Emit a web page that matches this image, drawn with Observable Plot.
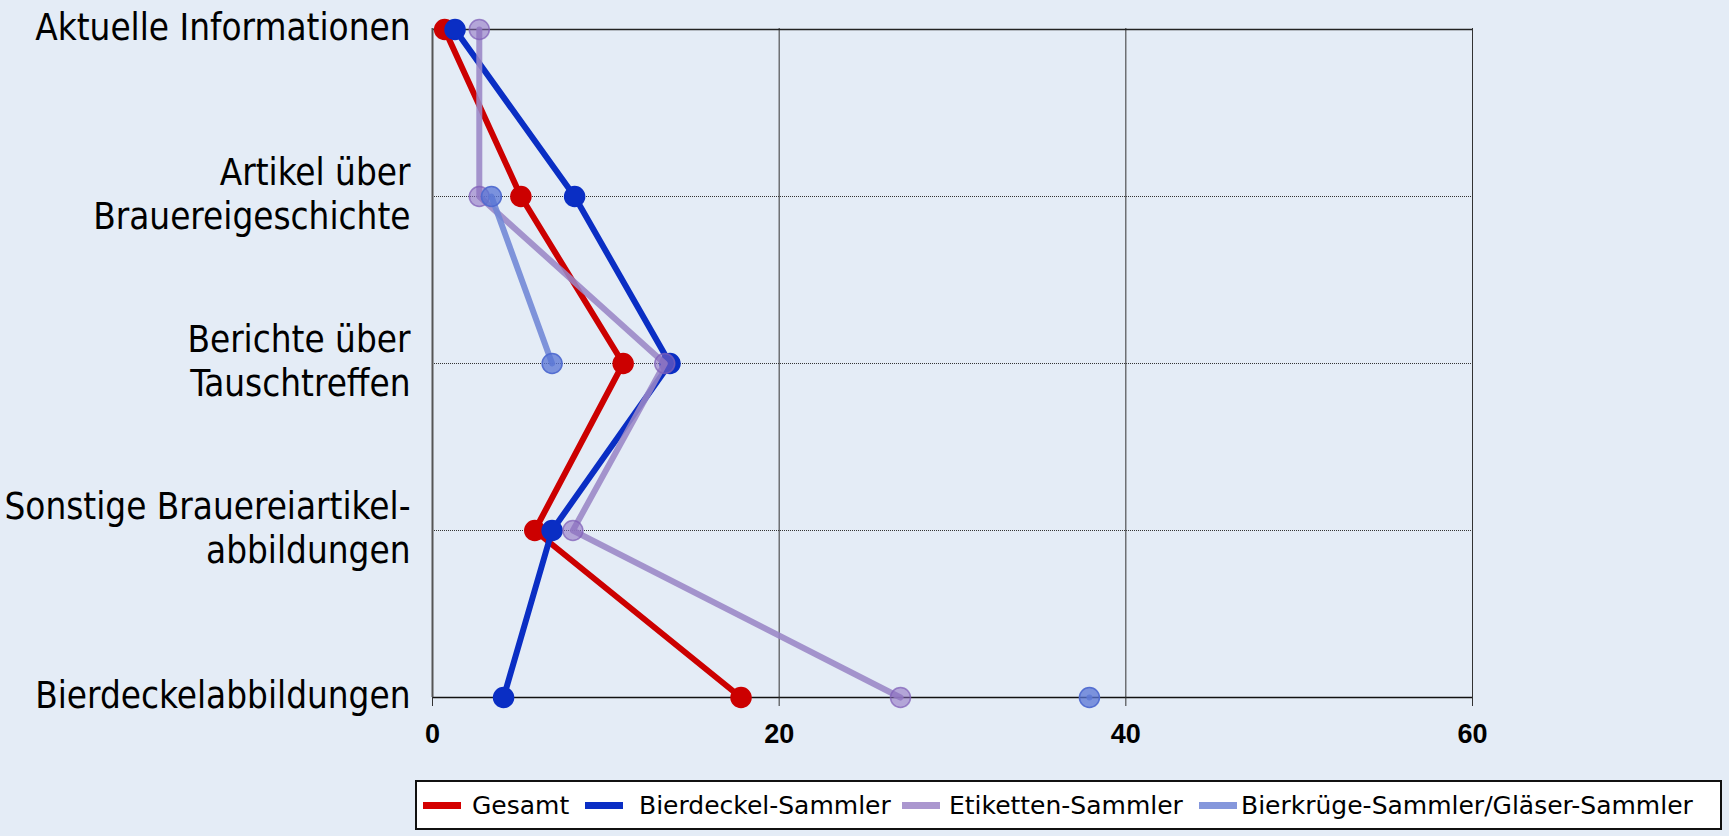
<!DOCTYPE html>
<html><head><meta charset="utf-8">
<script src="https://cdn.jsdelivr.net/npm/d3@7"></script>
<script src="https://cdn.jsdelivr.net/npm/@observablehq/plot@0.6"></script>
<style>
html,body{margin:0;padding:0;background:#e4ecf6;width:1729px;height:836px;overflow:hidden;position:relative;}
#chart{position:absolute;left:0;top:0;}
#legend{position:absolute;left:415px;top:780px;width:1303px;height:46px;background:#fff;border:2px solid #111;font-family:"DejaVu Sans",sans-serif;font-size:25px;color:#000;}
.sw{position:absolute;top:20px;width:38px;height:7px;}
.lt{position:absolute;top:0;line-height:48px;white-space:nowrap;}
</style>
</head><body>
<div id="chart"></div>
<div id="legend"></div>
<script>
const categories = ["Aktuelle Informationen","Artikel über Brauereigeschichte","Berichte über Tauschtreffen","Sonstige Brauereiartikelabbildungen","Bierdeckelabbildungen"];
const categoryLabels = ["Aktuelle Informationen","Artikel über\nBrauereigeschichte","Berichte über\nTauschtreffen","Sonstige Brauereiartikel-\nabbildungen","Bierdeckelabbildungen"];
const seriesNames = ["Gesamt","Bierdeckel-Sammler","Etiketten-Sammler","Bierkrüge-Sammler/Gläser-Sammler"];
const gesamt     = [0.7, 5.1, 11.0, 5.9, 17.8];
const bierdeckel = [1.3, 8.2, 13.7, 6.9, 4.1];
const etiketten  = [2.7, 2.7, 13.4, 8.1, 27.0];
const bierkruege = [null, 3.4, 6.9, null, 37.9];
const xTicks = [0, 20, 40, 60];

const seriesValues = [gesamt, bierdeckel, etiketten, bierkruege];
const styles = [
  {line:"#cc0000", lineOp:1, dot:"#cc0000", dotOp:1, stroke:"#cc0000", sw:"#d40000"},
  {line:"#0a2ec4", lineOp:1, dot:"#0a2ec4", dotOp:1, stroke:"#0a2ec4", sw:"#0a2ec4"},
  {line:"#9a86c6", lineOp:0.88, dot:"#8a6cc0", dotOp:0.55, stroke:"#8060b8", sw:"#ab97cf"},
  {line:"#6f86d6", lineOp:0.88, dot:"#5874d4", dotOp:0.75, stroke:"#4f6ad0", sw:"#8597dc"}
];

const rows = [];
seriesNames.forEach((s, i) => categories.forEach((c, j) => rows.push({series: s, category: c, value: seriesValues[i][j]})));

const marks = [
  Plot.ruleY(categories.slice(1, 4), {stroke: "#333", strokeWidth: 1, strokeDasharray: "1,1"}),
  Plot.ruleX(xTicks.slice(1), {stroke: "#333", strokeWidth: 1}),
  Plot.ruleY([categories[0]], {stroke: "#222", strokeWidth: 1.5}),
  Plot.ruleY([categories[4]], {stroke: "#111", strokeWidth: 1.5}),
  Plot.ruleX([0], {stroke: "#555", strokeWidth: 2}),
  Plot.axisX({ticks: xTicks, tickFormat: d => String(d), label: null, tickSize: 9, tickPadding: 17, stroke: "#333", fontSize: 27, fontWeight: "bold", fontFamily: "Liberation Sans, Arial, sans-serif", fill: "#000"}),
  Plot.text(categories, {x: 0, y: d => d, text: (d, i) => categoryLabels[i], textAnchor: "end", dx: -22, dy: -4, fontSize: 36.5, lineHeight: 1.22, fontFamily: "DejaVu Sans Condensed, DejaVu Sans, sans-serif", fill: "#000"})
];
seriesNames.forEach((s, i) => {
  const st = styles[i];
  const data = rows.filter(r => r.series === s);
  marks.push(Plot.line(data, {x: "value", y: "category", stroke: st.line, strokeOpacity: st.lineOp, strokeWidth: 6, curve: "linear"}));
  marks.push(Plot.dot(data.filter(r => r.value != null), {x: "value", y: "category", r: 10, fill: st.dot, fillOpacity: st.dotOp, stroke: st.stroke, strokeOpacity: Math.min(1, st.dotOp + 0.2), strokeWidth: 1.5}));
});

const chart = Plot.plot({
  width: 1729, height: 770,
  marginLeft: 432, marginRight: 257, marginTop: 28, marginBottom: 73,
  style: {background: "transparent", overflow: "visible"},
  x: {domain: [0, 60], axis: null, label: null},
  y: {type: "point", domain: categories, padding: 0, axis: null},
  marks
});
document.getElementById("chart").appendChild(chart);

const legend = document.getElementById("legend");
const swX = [6, 168, 485, 782];
const txX = [55, 222, 532, 824];
seriesNames.forEach((s, i) => {
  const sw = document.createElement("div");
  sw.className = "sw"; sw.style.left = swX[i] + "px"; sw.style.background = styles[i].sw;
  legend.appendChild(sw);
  const t = document.createElement("div");
  t.className = "lt"; t.style.left = txX[i] + "px"; t.textContent = s;
  legend.appendChild(t);
});
</script>
</body></html>
